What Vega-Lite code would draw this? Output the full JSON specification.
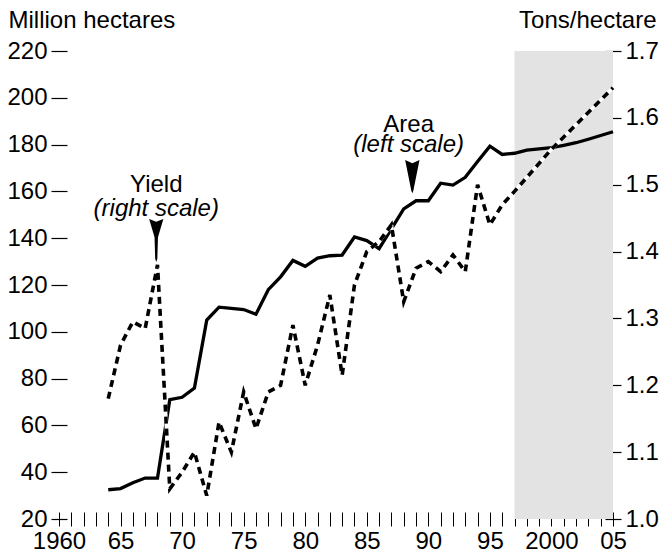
{
  "$schema": "https://vega.github.io/schema/vega-lite/v6.json",
  "width": 554,
  "height": 468,
  "autosize": {"type": "none"},
  "padding": {"left": 59, "top": 51, "right": 47, "bottom": 35},
  "config": {
    "view": {"stroke": null},
    "font": "Liberation Sans",
    "axis": {"labelColor": "black", "titleColor": "black", "tickColor": "black", "labelFont": "Liberation Sans", "titleFont": "Liberation Sans"}
  },
  "datasets": {
    "area": [
      {"year": 1964, "value": 32.5}, {"year": 1965, "value": 33}, {"year": 1966, "value": 35.5},
      {"year": 1967, "value": 37.5}, {"year": 1968, "value": 37.5}, {"year": 1969, "value": 71},
      {"year": 1970, "value": 72}, {"year": 1971, "value": 76}, {"year": 1972, "value": 105},
      {"year": 1973, "value": 110.5}, {"year": 1974, "value": 110}, {"year": 1975, "value": 109.5},
      {"year": 1976, "value": 107.5}, {"year": 1977, "value": 118}, {"year": 1978, "value": 123.5},
      {"year": 1979, "value": 130.5}, {"year": 1980, "value": 128}, {"year": 1981, "value": 131.5},
      {"year": 1982, "value": 132.5}, {"year": 1983, "value": 132.8}, {"year": 1984, "value": 140.5},
      {"year": 1985, "value": 139}, {"year": 1986, "value": 135.5}, {"year": 1987, "value": 144},
      {"year": 1988, "value": 152.5}, {"year": 1989, "value": 156}, {"year": 1990, "value": 156},
      {"year": 1991, "value": 163.5}, {"year": 1992, "value": 162.7}, {"year": 1993, "value": 166},
      {"year": 1994, "value": 172.8}, {"year": 1995, "value": 179.3}, {"year": 1996, "value": 175.8},
      {"year": 1997, "value": 176.3}, {"year": 1998, "value": 177.6}, {"year": 1999, "value": 178.2},
      {"year": 2000, "value": 178.7}, {"year": 2001, "value": 179.7}, {"year": 2002, "value": 180.8},
      {"year": 2003, "value": 182.3}, {"year": 2004, "value": 183.9}, {"year": 2005, "value": 185.5}
    ],
    "yield": [
      {"year": 1964, "value": 1.18}, {"year": 1965, "value": 1.26}, {"year": 1966, "value": 1.295},
      {"year": 1967, "value": 1.285}, {"year": 1968, "value": 1.38}, {"year": 1969, "value": 1.045},
      {"year": 1970, "value": 1.07}, {"year": 1971, "value": 1.1}, {"year": 1972, "value": 1.035},
      {"year": 1973, "value": 1.145}, {"year": 1974, "value": 1.1}, {"year": 1975, "value": 1.19},
      {"year": 1976, "value": 1.135}, {"year": 1977, "value": 1.19}, {"year": 1978, "value": 1.2},
      {"year": 1979, "value": 1.29}, {"year": 1980, "value": 1.2}, {"year": 1981, "value": 1.26},
      {"year": 1982, "value": 1.335}, {"year": 1983, "value": 1.215}, {"year": 1984, "value": 1.35},
      {"year": 1985, "value": 1.4}, {"year": 1986, "value": 1.415}, {"year": 1987, "value": 1.44},
      {"year": 1988, "value": 1.325}, {"year": 1989, "value": 1.375}, {"year": 1990, "value": 1.385},
      {"year": 1991, "value": 1.37}, {"year": 1992, "value": 1.395}, {"year": 1993, "value": 1.37},
      {"year": 1994, "value": 1.5}, {"year": 1995, "value": 1.44}, {"year": 1996, "value": 1.47},
      {"year": 1997, "value": 1.49}, {"year": 2000, "value": 1.553}, {"year": 2005, "value": 1.645}
    ]
  },
  "layer": [
    {
      "layer": [
        {
          "data": {"values": [{"start": 1997, "end": 2005}]},
          "mark": {"type": "rect", "color": "#e3e3e3"},
          "encoding": {
            "x": {
              "field": "start", "type": "quantitative",
              "scale": {"domain": [1960, 2005], "nice": false, "zero": false},
              "axis": {
                "values": [1960,1961,1962,1963,1964,1965,1966,1967,1968,1969,1970,1971,1972,1973,1974,1975,1976,1977,1978,1979,1980,1981,1982,1983,1984,1985,1986,1987,1988,1989,1990,1991,1992,1993,1994,1995,1996,1997,1998,1999,2000,2001,2002,2003,2004,2005],
                "tickCount": 60,
                "labelExpr": "datum.value % 5 != 0 ? '' : ((datum.value == 1960 || datum.value == 2000) ? format(datum.value, 'd') : slice(format(datum.value, 'd'), 2))",
                "offset": -7, "tickSize": 14, "tickWidth": 1, "domain": false, "grid": false,
                "title": null, "labelFontSize": 24, "labelPadding": 3,
                "labelOverlap": false, "labelFlush": false
              }
            },
            "x2": {"field": "end"}
          }
        },
        {
          "mark": {"type": "rule", "color": "#808080", "strokeWidth": 1.7},
          "encoding": {"y": {"datum": 220, "type": "quantitative"}}
        },
        {
          "mark": {"type": "rule", "color": "black", "strokeWidth": 1.3},
          "encoding": {"x": {"datum": 1960, "type": "quantitative"}}
        },
        {
          "mark": {"type": "rule", "color": "#333333", "strokeWidth": 1.5},
          "encoding": {"x": {"datum": 2005, "type": "quantitative"}}
        },
        {
          "mark": {"type": "rule", "color": "black", "strokeWidth": 1.3},
          "encoding": {"y": {"datum": 20, "type": "quantitative"}}
        },
        {
          "data": {"name": "area"},
          "mark": {"type": "line", "color": "black", "strokeWidth": 3.3},
          "encoding": {
            "x": {"field": "year", "type": "quantitative"},
            "y": {
              "field": "value", "type": "quantitative",
              "scale": {"domain": [20, 220], "nice": false, "zero": false},
              "axis": {
                "values": [20, 40, 60, 80, 100, 120, 140, 160, 180, 200, 220],
                "tickCount": 20,
                "offset": -8, "tickSize": 16, "tickWidth": 1.2, "domain": false, "grid": false,
                "labelFontSize": 24, "labelPadding": 4, "labelOverlap": false, "labelFlush": false,
                "title": "Million hectares", "titleAngle": 0, "titleAlign": "left",
                "titleBaseline": "alphabetic", "titleX": -59, "titleY": -24,
                "titleFontSize": 24, "titleFontWeight": "normal"
              }
            }
          }
        },
        {
          "data": {"values": [{"year": 1967.9, "value": 139}]},
          "mark": {"type": "point", "shape": "M-0.33,-1L0,-0.87L0.33,-1L0.08,-0.15L0.05,0.85L0,1L-0.05,0.85L-0.08,-0.15Z", "size": 1849, "filled": true, "color": "black", "opacity": 1, "strokeWidth": 0},
          "encoding": {"x": {"field": "year", "type": "quantitative"}, "y": {"field": "value", "type": "quantitative"}}
        },
        {
          "data": {"values": [{"year": 1988.7, "value": 166.3}]},
          "mark": {"type": "point", "shape": "M-0.43,-1L0,-0.8L0.43,-1L0.06,0.85L0,1L-0.06,0.85Z", "size": 1116, "filled": true, "color": "black", "opacity": 1, "strokeWidth": 0},
          "encoding": {"x": {"field": "year", "type": "quantitative"}, "y": {"field": "value", "type": "quantitative"}}
        },
        {
          "data": {"values": [{"label": "Yield", "year": 1967.9, "value": 159.9}, {"label": "Area", "year": 1988.4, "value": 185.5}]},
          "mark": {"type": "text", "fontSize": 24, "align": "center", "baseline": "alphabetic", "color": "black"},
          "encoding": {"x": {"field": "year", "type": "quantitative"}, "y": {"field": "value", "type": "quantitative"}, "text": {"field": "label"}}
        },
        {
          "data": {"values": [{"label": "(right scale)", "year": 1967.9, "value": 149.5}, {"label": "(left scale)", "year": 1988.4, "value": 176.8}]},
          "mark": {"type": "text", "fontSize": 24, "fontStyle": "italic", "align": "center", "baseline": "alphabetic", "color": "black"},
          "encoding": {"x": {"field": "year", "type": "quantitative"}, "y": {"field": "value", "type": "quantitative"}, "text": {"field": "label"}}
        }
      ]
    },
    {
      "data": {"name": "yield"},
      "encoding": {
        "x": {"field": "year", "type": "quantitative"},
        "y": {
          "field": "value", "type": "quantitative",
          "scale": {"domain": [1.0, 1.7], "nice": false, "zero": false},
          "axis": {
            "orient": "right",
            "values": [1.0, 1.1, 1.2, 1.3, 1.4, 1.5, 1.6, 1.7], "format": ".1f",
            "tickCount": 20,
            "offset": -8, "tickSize": 16, "tickWidth": 1.2, "domain": false, "grid": false,
            "labelFontSize": 24, "labelPadding": 4, "labelOverlap": false, "labelFlush": false,
            "title": "Tons/hectare", "titleAngle": 0, "titleAlign": "right",
            "titleBaseline": "alphabetic", "titleX": 51, "titleY": -24,
            "titleFontSize": 24, "titleFontWeight": "normal"
          }
        }
      },
      "layer": [
        {"mark": {"type": "line", "color": "white", "strokeWidth": 3.6}},
        {"mark": {"type": "line", "color": "black", "strokeWidth": 3.6, "strokeDash": [7, 5], "strokeCap": "butt"}}
      ]
    }
  ],
  "resolve": {"scale": {"y": "independent"}}
}
